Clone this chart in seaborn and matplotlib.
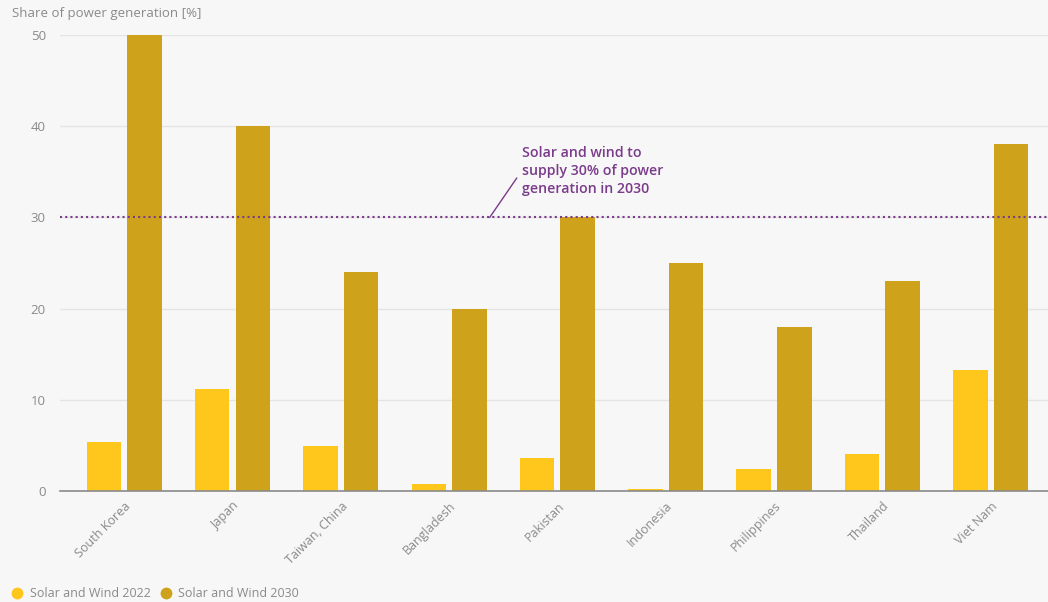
import pandas as pd
import matplotlib.pyplot as plt
import seaborn as sns
from matplotlib.lines import Line2D

countries = ["South Korea", "Japan", "Taiwan, China", "Bangladesh", "Pakistan",
             "Indonesia", "Philippines", "Thailand", "Viet Nam"]
share_2022 = [5.4, 11.2, 5.0, 0.8, 3.6, 0.2, 2.4, 4.1, 13.3]
share_2030 = [50, 40, 24, 20, 30, 25, 18, 23, 38]
series = ["Solar and Wind 2022", "Solar and Wind 2030"]
target = 30

colors = {"Solar and Wind 2022": "#FFC61C", "Solar and Wind 2030": "#CFA21B"}
bg = "#F7F7F7"
grey = "#8A8A8A"
purple = "#7A3B8A"

df = pd.DataFrame({
    "country": countries * 2,
    "series": [series[0]] * len(countries) + [series[1]] * len(countries),
    "value": share_2022 + share_2030,
})

sns.set_theme(style="white")
plt.rcParams["font.family"] = ["Open Sans", "DejaVu Sans"]

fig = plt.figure(figsize=(10.48, 6.02), dpi=100, facecolor=bg)
ax = fig.add_axes([0.057, 0.184, 0.943, 0.758], facecolor=bg)

sns.barplot(data=df, x="country", y="value", hue="series", palette=colors,
            width=0.75, gap=0.15, saturation=1, legend=False, linewidth=0, ax=ax)

ax.set_xlim(-0.595, 8.53)
ax.set_yticks([0, 10, 20, 30, 40, 50])
ax.yaxis.grid(True, color="#E4E4E4", linewidth=1)
ax.set_axisbelow(True)
for s in ["top", "right", "left"]:
    ax.spines[s].set_visible(False)
ax.spines["bottom"].set_color(grey)
ax.spines["bottom"].set_linewidth(1.2)
ax.tick_params(axis="both", length=0, colors=grey, labelsize=9.5)
ax.tick_params(axis="y", pad=10)
ax.tick_params(axis="x", labelsize=9, pad=6)
ax.set_xlabel("")
ax.set_ylabel("")
plt.setp(ax.get_xticklabels(), rotation=45, ha="right", rotation_mode="anchor")
ax.set_ylim(0, 50)

# target line + note
ax.axhline(target, color=purple, linestyle=(0, (1, 1.5)), linewidth=1.5, zorder=5)
ax.annotate("Solar and wind to\nsupply 30% of power\ngeneration in 2030",
            xy=(3.375, target), xytext=(3.67, 35.1),
            color=purple, fontsize=10.2, fontweight="semibold",
            ha="left", va="center", linespacing=1.35,
            arrowprops=dict(arrowstyle="-", color=purple, lw=1,
                            shrinkA=2, shrinkB=0, relpos=(0, 0.5)))

fig.text(0.011, 0.978, "Share of power generation [%]", color=grey,
         fontsize=9.5, ha="left", va="center")

handles = [Line2D([], [], marker="o", linestyle="", markersize=7.5,
                  markerfacecolor=colors[s], markeredgecolor=colors[s]) for s in series]
fig.legend(handles, series, loc="lower left", bbox_to_anchor=(-0.006, -0.016),
           ncol=2, frameon=False, fontsize=9, handletextpad=0.0,
           columnspacing=0.2, labelcolor=grey)

fig.savefig("out.png", dpi=100, facecolor=bg)
